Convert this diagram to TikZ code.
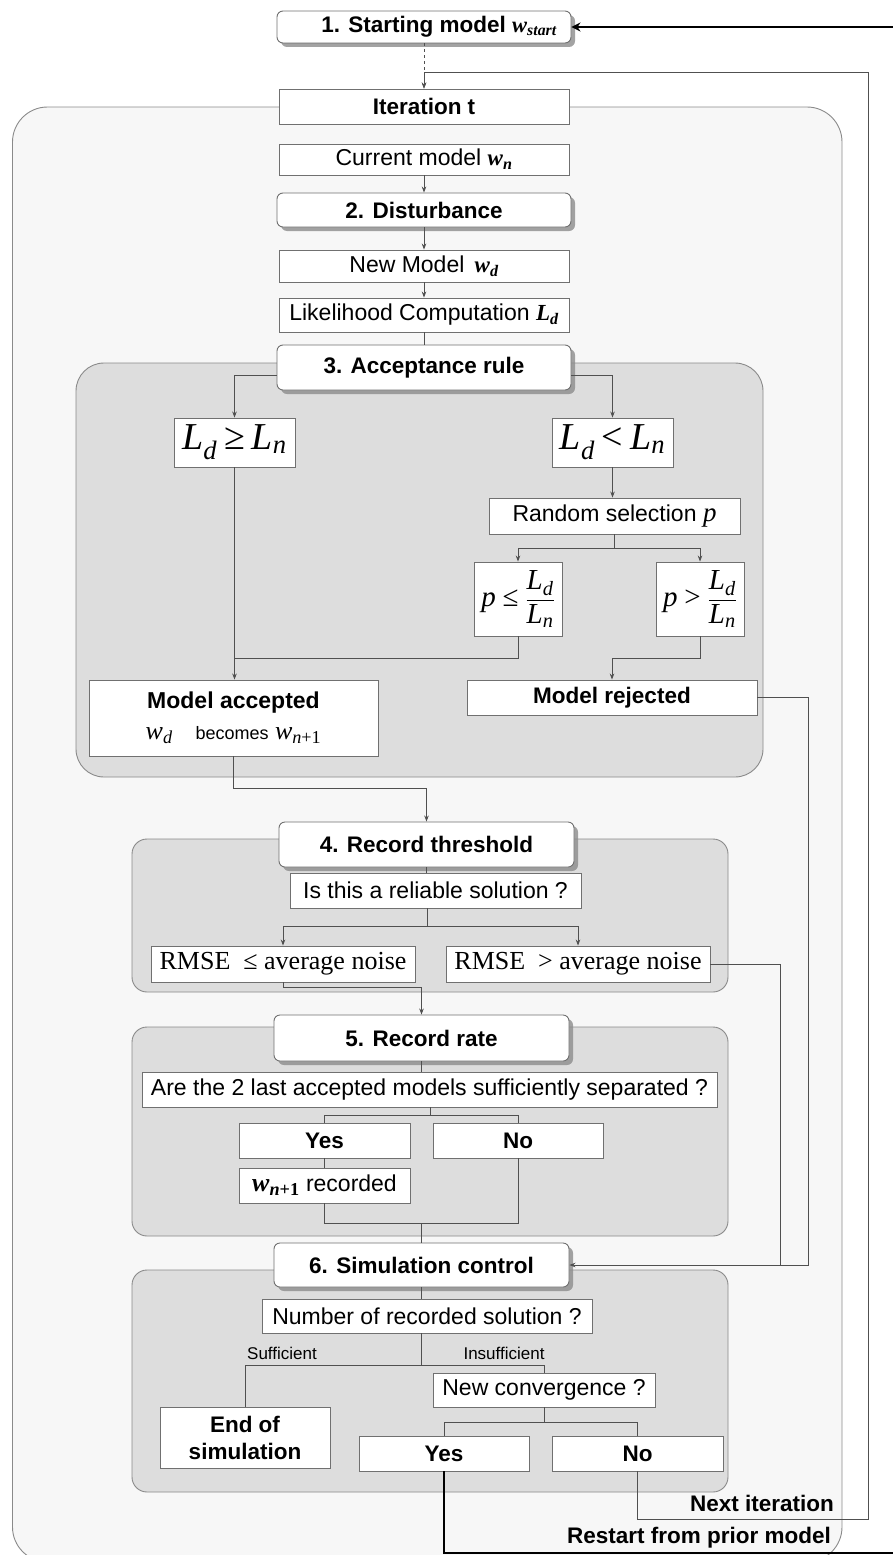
\documentclass[tikz,border=0pt]{standalone}
\usepackage{amsmath}
\usepackage{fontspec}
\setmainfont{Liberation Sans}
\newfontfamily\tms{Liberation Serif}
\usetikzlibrary{arrows.meta,shadows}
\newcommand\vI[1]{\text{\tms\itshape #1}}
\newcommand\bI[1]{\text{\tms\bfseries\itshape #1}}
\newcommand\bR[1]{\text{\tms\bfseries #1}}
\definecolor{outerfill}{HTML}{F7F7F7}
\definecolor{regfill}{HTML}{DDDDDD}
\definecolor{edgegray}{HTML}{8A8A8A}
\definecolor{boxedge}{HTML}{707070}
\definecolor{linegray}{HTML}{505050}
\tikzset{
  outerreg/.style={draw=edgegray, fill=outerfill, rounded corners=35pt, line width=0.9pt},
  region/.style={draw=edgegray, fill=regfill, line width=0.9pt},
  plainbox/.style={draw=boxedge, fill=white, line width=0.9pt, inner sep=0pt,
    font=\fontsize{23}{27}\selectfont},
  headbox/.style={draw=boxedge, fill=white, rounded corners=6pt, line width=0.9pt, inner sep=0pt,
    font=\fontsize{22.5}{26}\selectfont\bfseries,
    drop shadow={shadow xshift=4pt, shadow yshift=-4pt, fill=black!45, opacity=0.8}},
  conn/.style={draw=linegray, line width=0.8pt},
  arr/.style={conn, -{Stealth[length=6pt,width=4.5pt]}},
  thickarr/.style={draw=black, line width=2.8pt, -{Stealth[length=9pt,width=9pt]}},
  lbl/.style={inner sep=0pt, font=\fontsize{17}{20}\selectfont},
  biglbl/.style={inner sep=0pt, font=\fontsize{22.5}{26}\selectfont\bfseries},
}
\begin{document}
\begin{tikzpicture}[x=1pt,y=-1pt]
\useasboundingbox (0,0) rectangle (892,1555);
% regions
\draw[outerreg] (12.5,107) rectangle (842,1562);
\draw[region, rounded corners=28pt] (76,363) rectangle (763,777);
\draw[region, rounded corners=15pt] (132,839) rectangle (728,992);
\draw[region, rounded corners=15pt] (132,1027) rectangle (728,1236);
\draw[region, rounded corners=15pt] (132,1270) rectangle (728,1492);

% coordinates for free ends / bends
\coordinate (ni1) at (868,1519);
\coordinate (ni2) at (868,72);
\coordinate (rs1) at (900,1553);
\coordinate (rs2) at (900,27);
\coordinate (sp1) at (614.5,548);
\coordinate (m1) at (234.5,658);
\coordinate (m2) at (700,658);
\coordinate (m3) at (612,658);
\coordinate (rj1) at (808,697.5);
\coordinate (a1) at (233.5,788);
\coordinate (sp2) at (427,926);
\coordinate (b1) at (283,987);
\coordinate (j1) at (780,1265);
\coordinate (sp3) at (430,1115);
\coordinate (mg) at (421.5,1223);
\coordinate (sp4) at (421,1365);
\coordinate (sp5) at (544,1422);

% boxes
\node[headbox, minimum width=294pt, minimum height=32pt] (start) at (424,27)
  {\hspace*{30pt}1. Starting model $\bI{w}_{\bI{start}}$};
\node[plainbox, font=\fontsize{22.5}{26}\selectfont\bfseries, minimum width=290pt, minimum height=35pt] (iter) at (424,106.5) {Iteration t};
\node[plainbox, minimum width=290pt, minimum height=31pt] (cur) at (424,159.5) {Current model $\bI{w}_{\bI{n}}$};
\node[headbox, minimum width=294pt, minimum height=34pt] (dist) at (424,210) {2. Disturbance};
\node[plainbox, minimum width=290pt, minimum height=32pt] (newm) at (424,266) {New Model\, $\bI{w}_{\bI{d}}$};
\node[plainbox, minimum width=290pt, minimum height=34pt] (lik) at (424,315) {Likelihood Computation $\bI{L}_{\bI{d}}$};
\node[headbox, minimum width=294pt, minimum height=45pt] (acc) at (424,367.5) {3. Acceptance rule};

\node[plainbox, minimum width=121pt, minimum height=49pt, font=\fontsize{38}{40}\selectfont] (geq) at (234.5,442.5)
  {$\vI{L}_{\vI{d}}\mathrel{\text{\tms ≥}}\vI{L}_{\vI{n}}$};
\node[plainbox, minimum width=121pt, minimum height=49pt, font=\fontsize{38}{40}\selectfont] (lt) at (612.5,442.5)
  {$\vI{L}_{\vI{d}}\mathrel{\text{\tms <}}\vI{L}_{\vI{n}}$};
\node[plainbox, minimum width=251pt, minimum height=36pt] (rand) at (614.5,516)
  {Random selection {\fontsize{27}{28}\selectfont\tms\itshape p}};
\node[plainbox, minimum width=88pt, minimum height=74pt, font=\fontsize{29}{32}\selectfont] (ple) at (518,599)
  {$\vI{p}\mathrel{\text{\tms ≤}}\dfrac{\vI{L}_{\vI{d}}}{\vI{L}_{\vI{n}}}$};
\node[plainbox, minimum width=88pt, minimum height=74pt, font=\fontsize{29}{32}\selectfont] (pgt) at (700,599)
  {$\vI{p}\mathrel{\text{\tms >}}\dfrac{\vI{L}_{\vI{d}}}{\vI{L}_{\vI{n}}}$};
\node[plainbox, minimum width=289pt, minimum height=76pt, align=center] (macc) at (233.5,718)
  {{\bfseries Model accepted}\\[4pt]
   {\fontsize{26}{28}\selectfont$\vI{w}_{\vI{d}}$}\quad{\fontsize{18}{20}\selectfont becomes}
   {\fontsize{26}{28}\selectfont$\vI{w}_{\vI{n}\text{\tms +1}}$}};
\node[plainbox, font=\fontsize{22.5}{26}\selectfont\bfseries, minimum width=290pt, minimum height=35pt] (mrej) at (612,697.5) {Model rejected};

\node[headbox, minimum width=295pt, minimum height=45pt] (rt) at (426.5,844.5) {4. Record threshold};
\node[plainbox, minimum width=291pt, minimum height=35pt] (reli) at (435.5,890.5) {Is this a reliable solution ?};
\node[plainbox, minimum width=264pt, minimum height=36pt, font=\fontsize{26}{28}\selectfont\tms] (rle) at (283,964) {RMSE\ \ ≤ average noise};
\node[plainbox, minimum width=264pt, minimum height=36pt, font=\fontsize{26}{28}\selectfont\tms] (rgt) at (578,964) {RMSE\ \ > average noise};

\node[headbox, minimum width=295pt, minimum height=46pt] (rr) at (421.5,1038) {5. Record rate};
\node[plainbox, minimum width=575pt, minimum height=35pt] (sep) at (429.5,1089.5) {Are the 2 last accepted models sufficiently separated ?};
\node[plainbox, font=\fontsize{22.5}{26}\selectfont\bfseries, minimum width=171pt, minimum height=35pt] (yes) at (324.5,1140.5) {Yes};
\node[plainbox, font=\fontsize{22.5}{26}\selectfont\bfseries, minimum width=170pt, minimum height=35pt] (no) at (518,1140.5) {No};
\node[plainbox, minimum width=171pt, minimum height=35pt] (recd) at (324.5,1185.5)
  {{\fontsize{26}{28}\selectfont$\bI{w}_{\bI{n}\bR{+1}}$}\ recorded};

\node[headbox, minimum width=295pt, minimum height=44pt] (sim) at (421.5,1265) {6. Simulation control};
\node[plainbox, minimum width=330pt, minimum height=34pt] (num) at (427,1316) {Number of recorded solution ?};
\node[plainbox, font=\fontsize{22.5}{27}\selectfont\bfseries, minimum width=170pt, minimum height=61pt, align=center] (endn) at (245,1437.5) {End of\\simulation};
\node[plainbox, minimum width=222pt, minimum height=34pt] (conv) at (544,1390) {New convergence ?};
\node[plainbox, font=\fontsize{22.5}{26}\selectfont\bfseries, minimum width=170pt, minimum height=35pt] (yes2) at (444,1453.5) {Yes};
\node[plainbox, font=\fontsize{22.5}{26}\selectfont\bfseries, minimum width=171pt, minimum height=35pt] (no2) at (637.5,1453.5) {No};

% labels
\node[lbl] (suff) at (282,1353) {Sufficient};
\node[lbl] (insuff) at (504,1353) {Insufficient};
\node[biglbl, anchor=east] (nextit) at (834,1503) {Next iteration};
\node[biglbl, anchor=east] (restart) at (831,1538) {Restart from prior model};

% connectors
\draw[arr, dashed] (start.south) -- (iter.north);
\draw[arr] (no2.south) |- (ni1) -- (ni2) -| (iter.north);
\draw[thickarr] (yes2.south) |- (rs1) -- (rs2) -- (start.east);
\draw[arr] (cur.south) -- (dist.north);
\draw[arr] (dist.south) -- (newm.north);
\draw[arr] (newm.south) -- (lik.north);
\draw[conn] (lik.south) -- (acc.north);
\draw[arr] ([yshift=-8pt]acc.west) -| (geq.north);
\draw[arr] ([yshift=-8pt]acc.east) -| (lt.north);
\draw[arr] (lt.south) -- (lt.south |- rand.north);
\draw[conn] (rand.south) -- (sp1);
\draw[arr] (sp1) -| (ple.north);
\draw[arr] (sp1) -| (pgt.north);
\draw[arr] (geq.south) -- (geq.south |- macc.north);
\draw[conn] (ple.south) |- (m1);
\draw[arr] (pgt.south) -- (m2) -- (m3) -- (mrej.north);
\draw[arr] (mrej.east) -- (rj1) |- (sim.east);
\draw[arr] (macc.south) -- (a1) -| (rt.north);
\draw[conn] (rt.south) -- (rt.south |- reli.north);
\draw[conn] (reli.south -| sp2) -- (sp2);
\draw[arr] (sp2) -| (rle.north);
\draw[arr] (sp2) -| (rgt.north);
\draw[arr] (rle.south) -- (b1) -| (rr.north);
\draw[conn] (rgt.east) -| (j1);
\draw[conn] (rr.south) -- (rr.south |- sep.north);
\draw[conn] (sep.south -| sp3) -- (sp3);
\draw[conn] (sp3) -| (yes.north);
\draw[conn] (sp3) -| (no.north);
\draw[conn] (yes.south) -- (recd.north);
\draw[conn] (recd.south) |- (mg);
\draw[conn] (no.south) |- (mg);
\draw[conn] (mg) -- (sim.north);
\draw[conn] (sim.south) -- (sim.south |- num.north);
\draw[conn] (num.south -| sp4) -- (sp4);
\draw[conn] (sp4) -| (endn.north);
\draw[conn] (sp4) -| (conv.north);
\draw[conn] (conv.south) -- (sp5);
\draw[conn] (sp5) -| (yes2.north);
\draw[conn] (sp5) -| (no2.north);
\end{tikzpicture}
\end{document}
